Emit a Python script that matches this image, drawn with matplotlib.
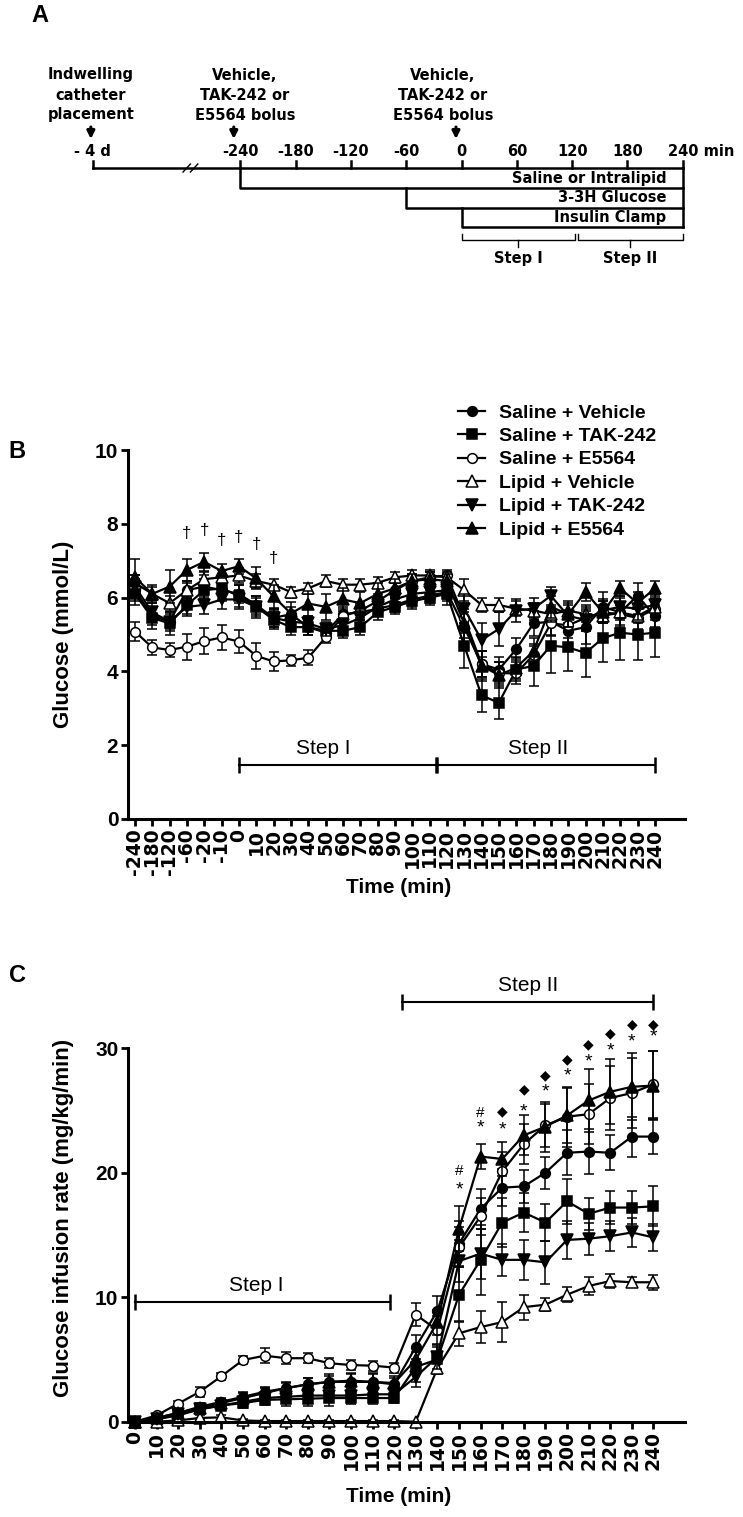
import matplotlib
matplotlib.use('Agg')
import matplotlib.pyplot as plt
import numpy as np

plt.rcParams['font.family'] = ['Liberation Sans', 'DejaVu Sans']

# ---------------- panel A: protocol timeline (times in min) ----------------
a_ticks = [-240, -180, -120, -60, 0, 60, 120, 180, 240]
a_catheter = -400          # "-4 d" drawn left of the axis break
a_break = -294
a_events = [['Indwelling', 'catheter', 'placement'],
            ['Vehicle,', 'TAK-242 or', 'E5564 bolus'],
            ['Vehicle,', 'TAK-242 or', 'E5564 bolus']]
a_event_t = [-402, -235, -20]
a_arrow_t = [-402, -247, -6]
a_infusions = ['Saline or Intralipid', '3-3H Glucose', 'Insulin Clamp']
a_inf_start = [-240, -60, 0]
a_steps = ['Step I', 'Step II']
a_step_range = [(0, 123), (126, 240)]

# ---------------- panel B: plasma glucose (mmol/L) ----------------
b_times = ['-240', '-180', '-120', '-60', '-20', '-10', '0', '10', '20', '30', '40', '50',
           '60', '70', '80', '90', '100', '110', '120', '130', '140', '150', '160', '170',
           '180', '190', '200', '210', '220', '230', '240']

b_sal_veh = [6.2, 5.5, 5.35, 6.2, 6.3, 6.2, 6.1, 5.8, 5.45, 5.55, 5.2, 5.05, 5.55, 5.6, 5.7, 5.8,
             5.95, 6.05, 6.15, 5.2, 4.2, 4.05, 4.6, 5.3, 5.35, 5.1, 5.2, 5.75, 5.6, 6.05, 5.5]
b_sal_veh_e = [0.3, 0.25, 0.2, 0.25, 0.3, 0.3, 0.25, 0.25, 0.25, 0.2, 0.2, 0.15, 0.2, 0.2, 0.2, 0.2,
               0.2, 0.2, 0.25, 0.4, 0.35, 0.35, 0.3, 0.35, 0.35, 0.4, 0.45, 0.4, 0.4, 0.35, 0.3]
b_sal_tak = [6.1, 5.45, 5.3, 5.8, 6.2, 6.25, 6.05, 5.75, 5.4, 5.2, 5.2, 5.1, 5.1, 5.2, 5.6, 5.75,
             5.9, 6.0, 6.1, 4.7, 3.35, 3.15, 4.05, 4.15, 4.7, 4.65, 4.5, 4.9, 5.05, 5.0, 5.05]
b_sal_tak_e = [0.3, 0.3, 0.3, 0.25, 0.3, 0.3, 0.3, 0.3, 0.25, 0.2, 0.2, 0.15, 0.2, 0.2, 0.2, 0.2,
               0.2, 0.2, 0.3, 0.6, 0.45, 0.45, 0.3, 0.55, 0.75, 0.65, 0.65, 0.65, 0.75, 0.7, 0.65]
b_sal_e55 = [5.08, 4.65, 4.58, 4.67, 4.82, 4.92, 4.81, 4.42, 4.27, 4.3, 4.37, 4.92, 5.5, 5.65, 5.9, 6.2,
             6.45, 6.55, 6.6, 5.45, 4.2, 3.95, 3.95, 4.45, 5.3, 5.25, 5.45, 5.6, 5.55, 5.45, 5.7]
b_sal_e55_e = [0.25, 0.2, 0.2, 0.35, 0.35, 0.35, 0.3, 0.35, 0.25, 0.15, 0.2, 0.15, 0.2, 0.2, 0.2, 0.2,
               0.2, 0.15, 0.15, 0.4, 0.35, 0.3, 0.3, 0.3, 0.35, 0.35, 0.35, 0.3, 0.3, 0.3, 0.3]
b_lip_veh = [6.4, 6.1, 5.85, 6.2, 6.5, 6.55, 6.6, 6.45, 6.35, 6.15, 6.25, 6.45, 6.35, 6.35, 6.4, 6.55,
             6.6, 6.6, 6.55, 6.2, 5.8, 5.8, 5.7, 5.65, 5.55, 5.65, 5.55, 5.5, 5.6, 5.5, 5.75]
b_lip_veh_e = [0.2, 0.2, 0.2, 0.2, 0.2, 0.2, 0.2, 0.2, 0.15, 0.15, 0.15, 0.15, 0.15, 0.15, 0.15, 0.15,
               0.15, 0.15, 0.15, 0.3, 0.2, 0.2, 0.2, 0.2, 0.2, 0.2, 0.2, 0.2, 0.2, 0.2, 0.2]
b_lip_tak = [6.3, 5.6, 5.35, 5.75, 5.8, 5.95, 5.95, 5.75, 5.45, 5.35, 5.3, 5.15, 5.25, 5.45, 5.75, 5.95,
             6.1, 6.15, 6.2, 5.7, 4.85, 5.15, 5.65, 5.7, 6.05, 5.5, 5.4, 5.65, 5.75, 5.7, 5.8]
b_lip_tak_e = [0.3, 0.25, 0.25, 0.25, 0.25, 0.25, 0.25, 0.25, 0.25, 0.2, 0.2, 0.2, 0.2, 0.2, 0.2, 0.2,
               0.2, 0.2, 0.25, 0.4, 0.45, 0.45, 0.3, 0.3, 0.25, 0.3, 0.3, 0.3, 0.3, 0.3, 0.3]
b_lip_e55 = [6.55, 6.1, 6.3, 6.75, 6.97, 6.72, 6.85, 6.52, 6.03, 5.57, 5.84, 5.75, 5.95, 5.85, 6.1, 6.25,
             6.45, 6.5, 6.45, 5.3, 4.15, 3.9, 4.1, 4.55, 5.75, 5.55, 6.15, 5.6, 6.25, 5.85, 6.25]
b_lip_e55_e = [0.5, 0.25, 0.45, 0.3, 0.25, 0.2, 0.2, 0.3, 0.3, 0.3, 0.35, 0.35, 0.3, 0.3, 0.3, 0.25,
               0.2, 0.2, 0.2, 0.4, 0.4, 0.35, 0.3, 0.35, 0.3, 0.35, 0.25, 0.3, 0.2, 0.3, 0.2]

b_dagger_x = [3, 4, 5, 6, 7, 8]
b_dagger_y = [7.75, 7.83, 7.56, 7.64, 7.43, 7.07]
b_step_x = [(6, 17.35), (17.45, 30)]
b_step_text_x = [10.85, 23.25]

# ---------------- panel C: glucose infusion rate (mg/kg/min) ----------------
c_times = ['0', '10', '20', '30', '40', '50', '60', '70', '80', '90', '100', '110', '120',
           '130', '140', '150', '160', '170', '180', '190', '200', '210', '220', '230', '240']

c_sal_veh = [0, 0.3, 0.7, 1.2, 1.6, 2.0, 2.4, 2.7, 3.0, 3.2, 3.2, 3.2, 3.0,
             6.0, 8.9, 14.3, 17.1, 18.8, 18.9, 20.0, 21.6, 21.7, 21.6, 22.9, 22.9]
c_sal_veh_e = [0, 0.1, 0.2, 0.3, 0.3, 0.4, 0.4, 0.4, 0.5, 0.5, 0.6, 0.6, 0.5,
               1.0, 1.2, 1.8, 1.6, 1.5, 1.3, 1.3, 1.8, 1.8, 1.4, 1.6, 1.4]
c_sal_tak = [0, 0.2, 0.5, 1.0, 1.3, 1.5, 1.75, 1.8, 1.85, 1.9, 1.9, 1.9, 1.9,
             4.4, 5.0, 10.2, 13.0, 16.0, 16.8, 16.0, 17.7, 16.7, 17.2, 17.2, 17.3]
c_sal_tak_e = [0, 0.1, 0.2, 0.3, 0.3, 0.4, 0.4, 0.5, 0.6, 0.6, 0.5, 0.5, 0.4,
               1.2, 1.0, 2.2, 2.8, 2.0, 1.6, 1.5, 1.8, 1.3, 1.3, 1.3, 1.6]
c_sal_e55 = [0, 0.5, 1.45, 2.4, 3.65, 4.95, 5.3, 5.1, 5.1, 4.7, 4.55, 4.5, 4.35,
             8.6, 7.35, 14.0, 16.5, 20.1, 22.3, 23.8, 24.5, 24.7, 26.0, 26.4, 27.1]
c_sal_e55_e = [0, 0.1, 0.2, 0.4, 0.3, 0.3, 0.6, 0.5, 0.4, 0.4, 0.4, 0.4, 0.4,
               0.9, 1.1, 1.6, 1.5, 1.6, 1.6, 1.7, 2.4, 2.4, 2.6, 2.8, 2.7]
c_lip_veh = [0, 0, 0.1, 0.3, 0.35, 0.1, 0.05, 0.05, 0.05, 0.05, 0.05, 0.05, 0.05,
             0.0, 4.3, 7.1, 7.6, 8.0, 9.2, 9.4, 10.2, 10.9, 11.3, 11.2, 11.2]
c_lip_veh_e = [0, 0, 0.1, 0.2, 0.2, 0.1, 0.1, 0.1, 0.1, 0.1, 0.1, 0.1, 0.1,
               0, 0.5, 1.0, 1.3, 1.6, 1.0, 0.5, 0.6, 0.7, 0.6, 0.4, 0.6]
c_lip_tak = [0, 0.2, 0.6, 1.0, 1.3, 1.6, 1.9, 2.0, 2.1, 2.1, 2.1, 2.2, 2.2,
             3.6, 5.2, 12.9, 13.5, 13.0, 13.0, 12.8, 14.6, 14.7, 14.9, 15.2, 14.8]
c_lip_tak_e = [0, 0.1, 0.2, 0.3, 0.3, 0.3, 0.3, 0.3, 0.3, 0.3, 0.3, 0.3, 0.3,
               0.8, 1.0, 1.7, 2.0, 1.3, 1.6, 1.7, 1.5, 1.3, 1.2, 1.2, 1.1]
c_lip_e55 = [0, 0.3, 0.7, 1.1, 1.5, 1.9, 2.3, 2.7, 3.0, 3.2, 3.3, 3.2, 3.1,
             5.0, 8.0, 15.5, 21.3, 21.1, 23.0, 23.7, 24.6, 25.8, 26.5, 26.9, 27.0]
c_lip_e55_e = [0, 0.1, 0.2, 0.3, 0.3, 0.4, 0.4, 0.5, 0.5, 0.6, 0.6, 0.7, 0.6,
               1.0, 1.0, 1.8, 1.0, 1.4, 1.6, 2.0, 2.2, 2.5, 2.6, 2.7, 2.8]

c_hash_x = [15, 16]
c_hash_y = [20.1, 24.8]
c_star_x = [15, 16, 17, 18, 19, 20, 21, 22, 23, 24]
c_star_y = [18.6, 23.6, 23.4, 24.9, 26.5, 27.75, 28.9, 29.8, 30.5, 30.9]
c_diam_x = [17, 18, 19, 20, 21, 22, 23, 24]
c_diam_y = [24.9, 26.7, 27.8, 29.1, 30.3, 31.2, 31.95, 31.95]
c_step_x = [(0, 11.8), (12.35, 24)]
c_step_y = [9.64, 33.7]
c_step_text_x = [5.6, 18.2]

groups = ['Saline + Vehicle', 'Saline + TAK-242', 'Saline + E5564',
          'Lipid + Vehicle', 'Lipid + TAK-242', 'Lipid + E5564']
markers = ['o', 's', 'o', '^', 'v', '^']
faces = ['k', 'k', 'w', 'w', 'k', 'k']
msizes = [7, 7, 7, 8, 8, 8]

b_series = [(b_sal_veh, b_sal_veh_e), (b_sal_tak, b_sal_tak_e), (b_sal_e55, b_sal_e55_e),
            (b_lip_veh, b_lip_veh_e), (b_lip_tak, b_lip_tak_e), (b_lip_e55, b_lip_e55_e)]
c_series = [(c_sal_veh, c_sal_veh_e), (c_sal_tak, c_sal_tak_e), (c_sal_e55, c_sal_e55_e),
            (c_lip_veh, c_lip_veh_e), (c_lip_tak, c_lip_tak_e), (c_lip_e55, c_lip_e55_e)]

W, H = 743, 1517
fig = plt.figure(figsize=(W / 100, H / 100), dpi=100)


def box(x0, y0, x1, y1):
    # pixel box (top-left origin) -> figure fraction
    return [x0 / W, 1 - y1 / H, (x1 - x0) / W, (y1 - y0) / H]


bold_a = dict(fontsize=10.5, fontweight='bold', family='DejaVu Sans')

# ======================= A =======================
axA = fig.add_axes(box(0, 0, W, 280))
axA.set_xlim(-461.5 / 0.922, (W - 461.5) / 0.922)
axA.set_ylim(280, 0)
axA.axis('off')
lw = 1.8
top = 168
axA.plot([a_catheter, a_ticks[-1]], [top, top], color='k', lw=lw)
for t in [a_catheter] + a_ticks:
    axA.plot([t, t], [top - 7, top], color='k', lw=lw)
for dx in (-4, 4):
    axA.plot([a_break + dx - 4, a_break + dx + 4], [top + 4, top - 4], color='k', lw=1)
rows = [(168, 188), (188, 207.5), (207.5, 227)]
axA.plot([a_ticks[-1], a_ticks[-1]], [top, rows[-1][1]], color='k', lw=lw)
for name, t0, (y0, y1) in zip(a_infusions, a_inf_start, rows):
    axA.plot([t0, t0, a_ticks[-1]], [y0, y1, y1], color='k', lw=lw)
    axA.text(222, (y0 + y1) / 2, name, ha='right', va='center', **bold_a)
axA.text(a_catheter, 152, '- 4 d', ha='center', va='center', **bold_a)
for t in a_ticks[:-1]:
    axA.text(t, 152, str(t), ha='center', va='center', **bold_a)
axA.text(a_ticks[-1] - 16, 152, '%d min' % a_ticks[-1], ha='left', va='center', **bold_a)
for lines, t in zip(a_events, a_event_t):
    for k, s in enumerate(lines):
        axA.text(t, 75 + 20 * k, s, ha='center', va='center', **bold_a)
for t in a_arrow_t:
    axA.annotate('', xy=(t, 139), xytext=(t, 127),
                 arrowprops=dict(arrowstyle='-|>', color='k', lw=2.2, mutation_scale=11,
                                 shrinkA=0, shrinkB=0))
for (t0, t1), lab in zip(a_step_range, a_steps):
    axA.plot([t0, t0, t1, t1], [234, 240, 240, 234], color='k', lw=1)
    mid = (t0 + t1) / 2
    axA.plot([mid, mid], [240, 247], color='k', lw=1)
    axA.text(mid, 258, lab, ha='center', va='center', **bold_a)


def style_axis(ax, labels, ymax, yt):
    x = np.arange(len(labels))
    ax.set_xticks(x)
    ax.set_xticklabels(labels, rotation=90, fontsize=13.5, fontweight='bold', family='DejaVu Sans')
    ax.set_yticks(yt)
    ax.set_yticklabels([str(v) for v in yt], fontsize=15, fontweight='bold')
    for s in ('top', 'right'):
        ax.spines[s].set_visible(False)
    for s in ('left', 'bottom'):
        ax.spines[s].set_linewidth(2.2)
    ax.spines['left'].set_bounds(0, ymax)
    ax.tick_params(width=2, length=5, pad=2)


def draw_series(ax, series, x):
    for name, (v, e), mk, fc, ms in zip(groups, series, markers, faces, msizes):
        ax.errorbar(x, v, yerr=e, fmt='none', ecolor='k', elinewidth=1.1, capsize=3.5,
                    capthick=1.1, clip_on=False)
        ax.plot(x, v, color='k', lw=1.6, marker=mk, mfc=fc, mec='k', mew=1.1, ms=ms,
                label=name, clip_on=False)


# ======================= B =======================
axB = fig.add_axes(box(128, 450, 685, 819))
xb = np.arange(len(b_times))
draw_series(axB, b_series, xb)
axB.set_xlim(-0.4, 31.74)
axB.set_ylim(0, 10)
style_axis(axB, b_times, 10, [0, 2, 4, 6, 8, 10])
axB.set_ylabel('Glucose (mmol/L)', fontsize=16, fontweight='bold')
axB.yaxis.set_label_coords(-0.097, 0.5)
axB.set_xlabel('Time (min)', fontsize=15, fontweight='bold')
axB.xaxis.set_label_coords(0.485, -0.16)
for x, y in zip(b_dagger_x, b_dagger_y):
    axB.text(x, y, '\u2020', ha='center', va='center', fontsize=12)
for (x0, x1), tx, lab in zip(b_step_x, b_step_text_x, a_steps):
    axB.plot([x0, x1], [1.46, 1.46], color='k', lw=1.5, marker='|', ms=11, mew=1.8)
    axB.text(tx, 1.9, lab, ha='center', va='center', fontsize=15)
axB.legend(loc='upper left', bbox_to_anchor=(458 / W, 1 - 404 / H), bbox_transform=fig.transFigure,
           frameon=False, prop=dict(size=14, weight='bold'), handlelength=1.4,
           handletextpad=0.7, labelspacing=0.3, borderpad=0, borderaxespad=0)

# ======================= C =======================
axC = fig.add_axes(box(128, 923.7, 685, 1421.7))
xc = np.arange(len(c_times))
draw_series(axC, c_series, xc)
axC.set_xlim(-0.32, 25.46)
axC.set_ylim(0, 40)
style_axis(axC, c_times, 30, [0, 10, 20, 30])
axC.set_ylabel('Glucose infusion rate (mg/kg/min)', fontsize=16, fontweight='bold')
axC.yaxis.set_label_coords(-0.097, 0.409)
axC.set_xlabel('Time (min)', fontsize=15, fontweight='bold')
axC.xaxis.set_label_coords(0.485, -0.131)
for (x0, x1), y, tx, lab in zip(c_step_x, c_step_y, c_step_text_x, a_steps):
    axC.plot([x0, x1], [y, y], color='k', lw=1.5, marker='|', ms=11, mew=1.8, clip_on=False)
    axC.text(tx, y + 1.3, lab, ha='center', va='center', fontsize=15)
for x, y in zip(c_hash_x, c_hash_y):
    axC.text(x, y, '#', ha='center', va='center', fontsize=11)
for x, y in zip(c_star_x, c_star_y):
    axC.text(x, y, '*', ha='center', va='center', fontsize=14)
for x, y in zip(c_diam_x, c_diam_y):
    axC.text(x, y, '\u25c6', ha='center', va='center', fontsize=10, family=['DejaVu Sans'])

for lab, (px, py) in zip(['A', 'B', 'C'], [(40, 16), (17, 452), (17, 975)]):
    fig.text(px / W, 1 - py / H, lab, ha='center', va='center', fontsize=17, fontweight='bold')

fig.savefig('out.png', dpi=100)
